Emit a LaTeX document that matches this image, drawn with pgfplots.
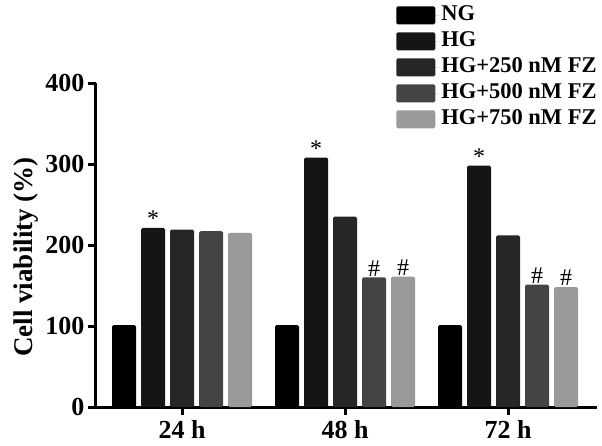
\documentclass[border=0pt]{standalone}
\usepackage{fontspec}
\setmainfont{Liberation Serif}
\usepackage{pgfplots}
\pgfplotsset{compat=1.18}
\definecolor{cNG}{HTML}{000000}
\definecolor{cHG}{HTML}{151515}
\definecolor{cA}{HTML}{262626}
\definecolor{cB}{HTML}{444444}
\definecolor{cC}{HTML}{9A9A9A}
\begin{document}
\begin{tikzpicture}
\begin{axis}[
  scale only axis, width=501pt, height=324pt,
  xmin=-0.528, xmax=2.546, ymin=0, ymax=400,
  ybar=5pt, bar width=24pt,
  legend image code/.code={\fill[#1] (0pt,-9pt) rectangle (39pt,9pt); \path (0pt,0pt) -- (43pt,0pt);},
  axis x line=bottom, axis y line=left,
  axis line style={-, line width=3pt, black},
  tick style={line width=3pt, black},
  major tick length=8pt, tick align=outside,
  xtick={0,1,2}, xticklabels={24 h,48 h,72 h},
  ytick={0,100,200,300,400},
  /pgf/number format/assume math mode=true,
  tick label style={font=\fontsize{26}{30}\selectfont\bfseries},
  xticklabel style={yshift=-2pt},
  ylabel={Cell viability (\%)},
  ylabel style={font=\fontsize{27}{30}\selectfont\bfseries, at={(ticklabel cs:0.463)}},
  point meta=explicit symbolic,
  nodes near coords,
  every node near coord/.append style={font=\fontsize{24}{26}\selectfont, anchor=south, inner sep=1pt, black},
  legend style={at={(rel axis cs:0.599,1.245)}, anchor=north west, draw=none, fill=none,
    inner sep=0pt, row sep=3pt,
    font=\fontsize{22.5}{24}\selectfont\bfseries,
    nodes={inner sep=2pt, text height=15pt, text depth=4pt}},
  legend cell align=left,
  clip=false,
]
\addplot[fill=cNG, draw=none, rounded corners=1.5pt] coordinates {(0,101) [] (1,101) [] (2,101) []};
\addplot[fill=cHG, draw=none, rounded corners=1.5pt] coordinates {(0,221) [*] (1,308) [*] (2,298) [*]};
\addplot[fill=cA, draw=none, rounded corners=1.5pt] coordinates {(0,219) [] (1,235) [] (2,212) []};
\addplot[fill=cB, draw=none, rounded corners=1.5pt] coordinates {(0,217) [] (1,160) [\#] (2,151) [\#]};
\addplot[fill=cC, draw=none, rounded corners=1.5pt] coordinates {(0,215) [] (1,161) [\#] (2,148) [\#]};
\legend{NG,HG,HG+250 nM FZ,HG+500 nM FZ,HG+750 nM FZ}
\coordinate (O) at (rel axis cs:0,0);
\end{axis}
\pgfresetboundingbox
\path[use as bounding box] ([shift={(-96pt,-38pt)}]O) rectangle ++(602pt,445pt);
\end{tikzpicture}
\end{document}
